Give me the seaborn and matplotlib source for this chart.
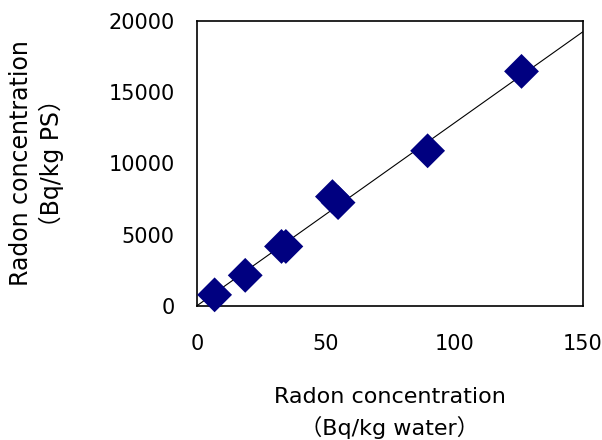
import matplotlib
matplotlib.use("Agg")
import matplotlib.pyplot as plt
import seaborn as sns
import pandas as pd

# data
radon_water = [6.9, 18.8, 32.9, 34.6, 52.7, 54.9, 89.7, 126.2]
radon_ps = [770, 2140, 4170, 4170, 7670, 7250, 10890, 16470]
fit_slope = 128.3  # fitted line through the origin
x_ticks = [0, 50, 100, 150]
y_ticks = [0, 5000, 10000, 15000, 20000]

df = pd.DataFrame({"water": radon_water, "ps": radon_ps})

sns.set_theme(style="white")
plt.rcParams['font.family'] = ['DejaVu Sans', 'Noto Sans CJK JP']
plt.rcParams['text.color'] = 'black'
plt.rcParams['axes.labelcolor'] = 'black'

fig, ax = plt.subplots(figsize=(6.02, 4.40), dpi=100)
fig.subplots_adjust(left=0.327, right=0.968, top=0.952, bottom=0.305)

ax.axline((0, 0), slope=fit_slope, color='black', lw=0.8, zorder=1)
sns.scatterplot(data=df, x="water", y="ps", marker='D', s=315, color='#000080',
                edgecolor='none', ax=ax, zorder=3, clip_on=False)

ax.set_xlim(0, 150)
ax.set_ylim(0, 20000)
ax.set_xticks(x_ticks)
ax.set_yticks(y_ticks)
ax.tick_params(direction='in', length=7, width=1, color='black', labelsize=15,
               labelcolor='black')
ax.tick_params(axis='x', pad=20)
ax.tick_params(axis='y', pad=16)
for s in ax.spines.values():
    s.set_color('black')
    s.set_linewidth(1.2)

ax.set_xlabel("Radon concentration\n（Bq/kg water）", fontsize=16, labelpad=24,
              linespacing=1.5)
ax.set_ylabel("Radon concentration\n（Bq/kg PS）", fontsize=17, labelpad=32,
              linespacing=1.3)

fig.savefig("out.png", dpi=100, facecolor='white')
